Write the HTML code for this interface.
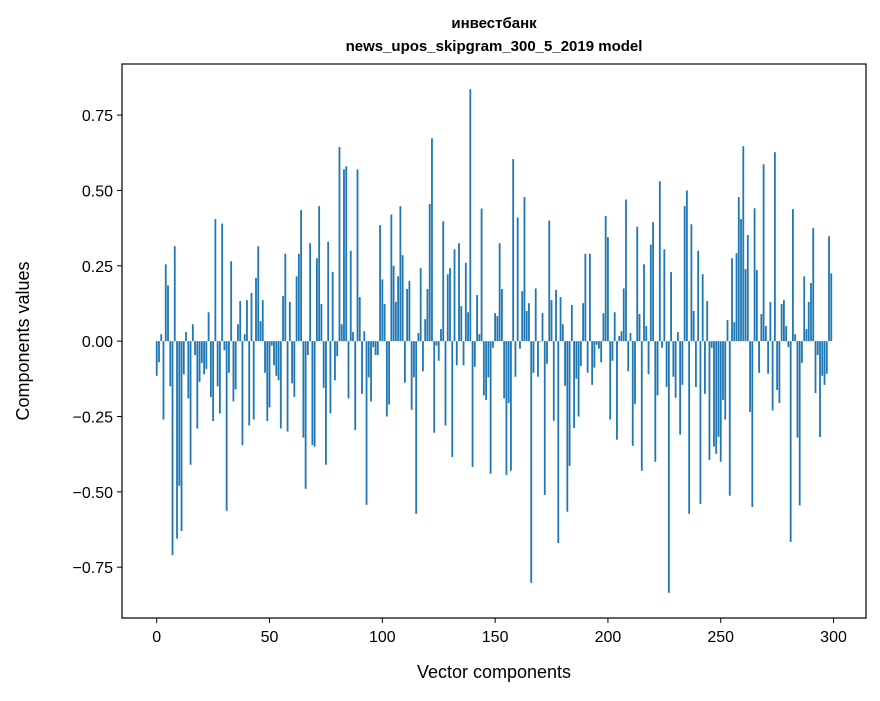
<!DOCTYPE html>
<html><head><meta charset="utf-8"><style>
html,body{margin:0;padding:0;background:#fff;}
svg text{font-family:"Liberation Sans","DejaVu Sans",sans-serif;fill:#000;}
</style></head><body>
<svg id="chart" width="880" height="696" viewBox="0 0 880 696" xmlns="http://www.w3.org/2000/svg">
<rect x="0" y="0" width="880" height="696" fill="#fff"/>
<text x="494" y="28" text-anchor="middle" font-size="15" font-weight="bold">инвестбанк</text>
<text x="494" y="51" text-anchor="middle" font-size="15" font-weight="bold">news_upos_skipgram_300_5_2019 model</text>
<g id="bars"></g>
<g id="axes"></g>
<rect x="122" y="64" width="744" height="554" fill="none" stroke="#000" stroke-width="1.2"/>
<text x="494" y="678" text-anchor="middle" font-size="18">Vector components</text>
<text transform="translate(29,341) rotate(-90)" text-anchor="middle" font-size="18">Components values</text>
</svg>
<script>
const componentValues = [
-0.115,-0.07,0.023,-0.26,0.255,0.185,-0.15,-0.71,0.315,-0.655,
-0.48,-0.63,-0.11,0.03,-0.19,-0.41,0.056,-0.046,-0.29,-0.135,
-0.072,-0.11,-0.092,0.096,-0.185,-0.265,0.405,-0.15,-0.24,0.39,
-0.03,-0.563,-0.105,0.265,-0.2,-0.16,0.056,0.133,-0.345,0.023,
0.136,-0.28,0.16,-0.26,0.21,0.315,0.066,0.136,-0.105,-0.265,
-0.22,-0.015,-0.08,-0.115,-0.13,-0.29,0.15,0.29,-0.3,0.13,
-0.14,-0.185,0.215,0.29,0.435,-0.32,-0.49,-0.046,0.325,-0.345,
-0.35,0.275,0.448,0.123,-0.155,-0.41,0.33,-0.24,0.23,-0.13,
-0.05,0.644,0.056,0.57,0.58,-0.19,0.3,0.03,-0.295,0.57,
0.146,-0.175,0.033,-0.543,-0.12,-0.2,-0.02,-0.046,-0.046,0.385,
0.205,0.123,-0.25,-0.21,0.42,0.25,0.13,0.215,0.448,0.285,
-0.138,0.173,0.2,-0.228,-0.12,-0.573,0.027,0.242,-0.1,0.073,
0.173,0.455,0.673,-0.304,-0.015,-0.065,0.04,0.398,-0.28,0.222,
0.242,-0.384,0.305,-0.08,0.325,0.116,-0.08,0.26,0.096,0.836,
-0.417,-0.085,0.153,0.023,0.44,-0.18,-0.195,-0.12,-0.44,-0.022,
0.093,0.083,0.325,0.173,-0.19,-0.444,-0.205,-0.43,0.604,-0.118,
0.41,-0.025,0.166,0.478,0.1,0.126,-0.802,-0.105,0.175,-0.118,
-0.002,0.093,-0.51,-0.075,0.4,0.136,-0.264,0.17,-0.67,0.146,
0.056,-0.148,-0.566,-0.414,0.12,-0.288,-0.125,-0.25,-0.082,0.126,
0.29,-0.105,0.29,-0.145,-0.088,-0.012,-0.025,-0.07,0.093,0.415,
0.345,-0.26,-0.065,0.096,-0.327,0.017,0.033,0.175,0.47,-0.1,
0.027,-0.347,-0.208,0.38,0.09,-0.43,0.255,0.05,-0.11,0.32,
0.395,-0.4,-0.18,0.53,-0.022,0.305,-0.152,-0.835,0.229,-0.118,
-0.188,0.03,-0.31,-0.145,0.448,0.5,-0.573,0.388,0.1,-0.152,
0.3,-0.54,0.222,-0.175,0.133,-0.394,-0.022,-0.35,-0.374,-0.317,
-0.4,-0.195,-0.26,0.07,-0.513,0.275,0.063,0.292,0.478,0.405,
0.647,0.239,0.352,-0.235,-0.55,0.441,0.236,-0.105,0.09,0.587,
0.05,-0.108,0.13,-0.23,0.627,-0.162,-0.205,0.123,0.136,0.05,
-0.02,-0.666,0.438,0.023,-0.32,-0.545,-0.072,0.215,0.04,0.13,
0.193,0.375,-0.172,-0.046,-0.318,-0.115,-0.145,-0.108,0.348,0.225
];
const xTicks = [0,50,100,150,200,250,300];
const yTicks = [-0.75,-0.5,-0.25,0,0.25,0.5,0.75];
const yTickLabels = ["\u22120.75","\u22120.50","\u22120.25","0.00","0.25","0.50","0.75"];

const NS = "http://www.w3.org/2000/svg";
const L=122,R=866,T=64,B=618;
const n = componentValues.length;
const xmin=-0.4-0.05*(n-0.2), xmax=(n-1)+0.4+0.05*(n-0.2);
const vmin=Math.min(...componentValues), vmax=Math.max(...componentValues);
const ymin=vmin-0.05*(vmax-vmin), ymax=vmax+0.05*(vmax-vmin);
function xScale(v){return L+(v-xmin)/(xmax-xmin)*(R-L);}
function yScale(v){return B-(v-ymin)/(ymax-ymin)*(B-T);}

const bars=document.getElementById('bars');
componentValues.forEach((v,i)=>{
  const r=document.createElementNS(NS,'rect');
  const x0=xScale(i-0.4), x1=xScale(i+0.4);
  const y0=yScale(Math.max(v,0)), y1=yScale(Math.min(v,0));
  r.setAttribute('x',x0);r.setAttribute('width',x1-x0);
  r.setAttribute('y',y0);r.setAttribute('height',Math.max(y1-y0,0.3));
  r.setAttribute('fill','#1f77b4');
  
  
  bars.appendChild(r);
});

const axes=document.getElementById('axes');
xTicks.forEach(t=>{
  const x=xScale(t);
  const ln=document.createElementNS(NS,'line');
  ln.setAttribute('x1',x);ln.setAttribute('x2',x);ln.setAttribute('y1',B);ln.setAttribute('y2',B+5);
  ln.setAttribute('stroke','#000');
  
  
  axes.appendChild(ln);
  const tx=document.createElementNS(NS,'text');
  tx.setAttribute('x',x);tx.setAttribute('y',B+24);tx.setAttribute('text-anchor','middle');tx.setAttribute('font-size','16');
  tx.textContent=String(t);
  
  
  axes.appendChild(tx);
});
yTicks.forEach((t,k)=>{
  const y=yScale(t);
  const ln=document.createElementNS(NS,'line');
  ln.setAttribute('x1',L-5);ln.setAttribute('x2',L);ln.setAttribute('y1',y);ln.setAttribute('y2',y);
  ln.setAttribute('stroke','#000');
  
  
  axes.appendChild(ln);
  const tx=document.createElementNS(NS,'text');
  tx.setAttribute('x',L-9);tx.setAttribute('y',y+6);tx.setAttribute('text-anchor','end');tx.setAttribute('font-size','16');
  tx.textContent=yTickLabels[k];
  
  
  axes.appendChild(tx);
});
</script>
</body></html>
